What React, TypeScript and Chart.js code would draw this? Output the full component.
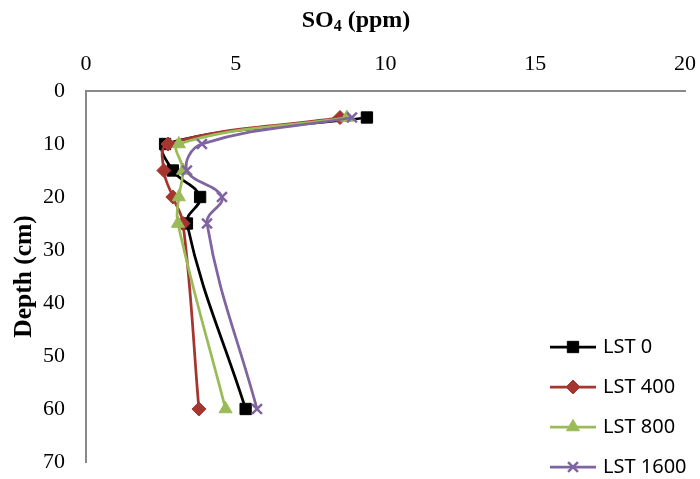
import React, { useEffect, useRef } from "react";
import { Chart, registerables } from "chart.js";

Chart.register(...registerables);

const depths = [5, 10, 15, 20, 25, 60];
const lst0 = [9.38, 2.64, 2.9, 3.81, 3.37, 5.33];
const lst400 = [8.48, 2.74, 2.6, 2.9, 3.24, 3.77];
const lst800 = [8.71, 3.1, 3.24, 3.1, 3.07, 4.66];
const lst1600 = [8.88, 3.87, 3.37, 4.54, 4.04, 5.71];
const seriesLabels = ["LST 0", "LST 400", "LST 800", "LST 1600"];
const xTitleParts = ["SO", "4", " (ppm)"];
const yTitle = "Depth (cm)";

const colors = ["#000000", "#A5352F", "#9BBB59", "#8064A2"];
const styles = ["rect", "rectRot", "triangle", "crossRot"];
const radii = [8, 7, 7.5, 7];

function drawMarker(ctx: CanvasRenderingContext2D, style: string, x: number, y: number, r: number, color: string) {
  ctx.save();
  ctx.fillStyle = color;
  ctx.strokeStyle = color;
  ctx.beginPath();
  if (style === "rect") {
    const s = Math.SQRT1_2 * r;
    ctx.rect(x - s, y - s, 2 * s, 2 * s);
    ctx.fill();
    ctx.lineWidth = 1;
    ctx.stroke();
  } else if (style === "rectRot") {
    ctx.moveTo(x, y - r);
    ctx.lineTo(x + r, y);
    ctx.lineTo(x, y + r);
    ctx.lineTo(x - r, y);
    ctx.closePath();
    ctx.fill();
    ctx.lineWidth = 1;
    ctx.stroke();
  } else if (style === "triangle") {
    const a = (Math.PI * 2) / 3;
    ctx.moveTo(x, y - r);
    ctx.lineTo(x + Math.sin(a) * r, y - Math.cos(a) * r);
    ctx.lineTo(x - Math.sin(a) * r, y - Math.cos(a) * r);
    ctx.closePath();
    ctx.fill();
    ctx.lineWidth = 1;
    ctx.stroke();
  } else {
    const s = Math.SQRT1_2 * r;
    ctx.moveTo(x - s, y - s);
    ctx.lineTo(x + s, y + s);
    ctx.moveTo(x + s, y - s);
    ctx.lineTo(x - s, y + s);
    ctx.lineWidth = 2.5;
    ctx.stroke();
  }
  ctx.restore();
}

const legendPlugin = {
  id: "customLegend",
  afterDraw(chart: any) {
    const ctx: CanvasRenderingContext2D = chart.ctx;
    ctx.save();
    chart.data.datasets.forEach((ds: any, i: number) => {
      const y = 347 + i * 40;
      ctx.strokeStyle = ds.borderColor;
      ctx.lineWidth = 2.75;
      ctx.beginPath();
      ctx.moveTo(550, y);
      ctx.lineTo(596, y);
      ctx.stroke();
      drawMarker(ctx, styles[i], 573, y, radii[i], colors[i]);
      ctx.fillStyle = "#000000";
      ctx.font = '20px "Noto Sans"';
      ctx.textAlign = "left";
      ctx.textBaseline = "middle";
      ctx.fillText(ds.label, 603, y);
    });
    ctx.restore();
  },
};

const xTitlePlugin = {
  id: "xTitle",
  afterDraw(chart: any) {
    const ctx: CanvasRenderingContext2D = chart.ctx;
    ctx.save();
    ctx.fillStyle = "#000000";
    ctx.textAlign = "left";
    ctx.textBaseline = "alphabetic";
    const big = 'bold 24px "Liberation Serif"';
    const small = 'bold 16px "Liberation Serif"';
    ctx.font = big;
    const w0 = ctx.measureText(xTitleParts[0]).width;
    const w2 = ctx.measureText(xTitleParts[2]).width;
    ctx.font = small;
    const w1 = ctx.measureText(xTitleParts[1]).width;
    const total = w0 + w1 + w2;
    const cx = 356;
    const base = 27;
    let x = cx - total / 2;
    ctx.font = big;
    ctx.fillText(xTitleParts[0], x, base);
    x += w0;
    ctx.font = small;
    ctx.fillText(xTitleParts[1], x, base + 4);
    x += w1;
    ctx.font = big;
    ctx.fillText(xTitleParts[2], x, base);
    ctx.restore();
  },
};

export default function App() {
  const ref = useRef<HTMLCanvasElement | null>(null);
  useEffect(() => {
    if (!ref.current) return;
    const all = [lst0, lst400, lst800, lst1600];
    const chart = new Chart(ref.current, {
      type: "scatter",
      data: {
        datasets: all.map((vals, i) => ({
          label: seriesLabels[i],
          data: vals.map((v, j) => ({ x: v, y: depths[j] })),
          showLine: true,
          tension: 0.4,
          borderColor: colors[i],
          backgroundColor: colors[i],
          borderWidth: 2.75,
          pointStyle: styles[i] as any,
          pointRadius: radii[i],
          pointBorderWidth: i === 3 ? 2.5 : 1,
          pointBorderColor: colors[i],
          pointBackgroundColor: colors[i],
          order: 3 - i,
        })),
      },
      options: {
        responsive: false,
        animation: false,
        layout: { padding: { left: 0, top: 0, right: 15, bottom: 17 } },
        plugins: {
          legend: { display: false },
          tooltip: { enabled: false },
        },
        scales: {
          x: {
            type: "linear",
            position: "top",
            min: 0,
            max: 20,
            ticks: {
              stepSize: 5,
              padding: 14,
              color: "#000000",
              font: { family: '"Liberation Serif"', size: 22 },
            },
            grid: { display: false, drawTicks: false },
            border: { display: true, color: "#898989", width: 2 },
            title: { display: false },
            afterFit: (s: any) => {
              s.height = 91;
              s.paddingLeft = 0;
              s.paddingRight = 0;
            },
          },
          y: {
            type: "linear",
            reverse: true,
            min: 0,
            max: 70,
            ticks: {
              stepSize: 10,
              padding: 21,
              color: "#000000",
              font: { family: '"Liberation Serif"', size: 22 },
            },
            grid: { display: false, drawTicks: false },
            border: { display: true, color: "#898989", width: 2 },
            title: {
              display: true,
              text: yTitle,
              color: "#000000",
              font: { family: '"Liberation Serif"', size: 25.5, weight: "bold" },
              padding: { top: 9, bottom: 0 },
            },
            afterFit: (s: any) => {
              s.width = 86;
              s.paddingTop = 0;
              s.paddingBottom = 0;
            },
          },
        },
      },
      plugins: [legendPlugin, xTitlePlugin],
    });
    return () => chart.destroy();
  }, []);
  return (
    <div style={{ position: "fixed", left: 0, top: 0, width: 700, height: 479, background: "#ffffff" }}>
      <canvas ref={ref} width={700} height={479} style={{ width: 700, height: 479, display: "block" }} />
    </div>
  );
}
